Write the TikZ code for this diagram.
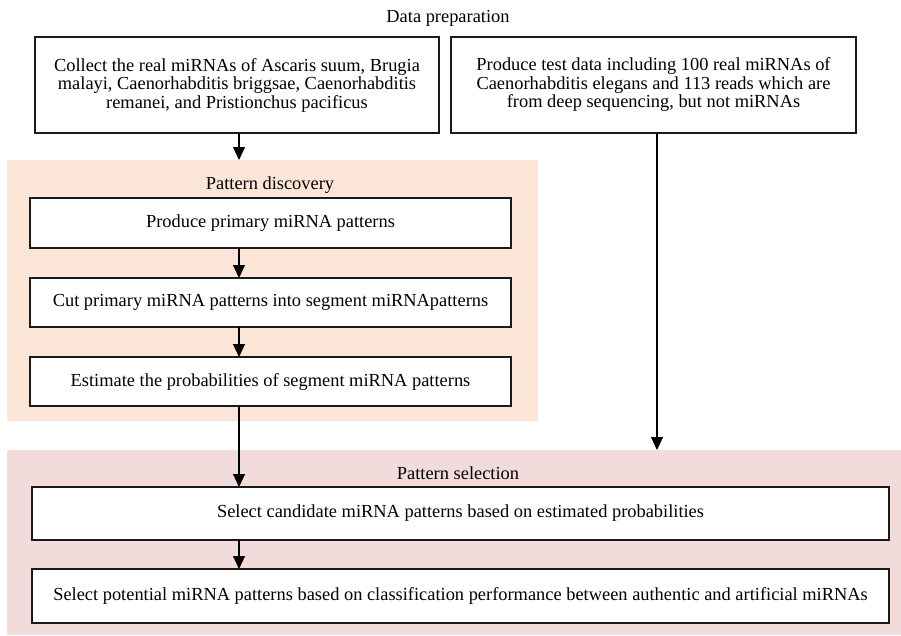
\documentclass[tikz,border=0pt]{standalone}
\usepackage{fontspec}
\setmainfont{Liberation Serif}
\usepackage{xcolor}
\usepackage{tikz}
\usetikzlibrary{arrows.meta,positioning,calc}
\definecolor{ink}{HTML}{1A1A1A}
\definecolor{peach}{HTML}{FBE5D6}
\definecolor{rose}{HTML}{F2DCDB}

\begin{document}
\begin{tikzpicture}[x=1pt,y=-1pt]
    \tikzset{
      item/.style={draw=ink,fill=white,line width=1.2pt,inner sep=0pt,outer sep=0pt,align=center,font=\fontsize{18.4}{18.5}\selectfont},
      panel/.style={draw=none,inner sep=0pt,outer sep=0pt},
      heading/.style={inner sep=0pt,font=\fontsize{18.4}{18.5}\selectfont},
      arrow/.style={-{Triangle[length=13pt,width=12pt]},draw=black,line width=1.1pt}
    }
    \useasboundingbox (0,0) rectangle (901,635);
    % group panels
    \node[panel,fill=peach,minimum width=531pt,minimum height=261pt] (discpanel) at (272.5,290.5) {};
    \node[panel,fill=rose,minimum width=894pt,minimum height=185pt] (selpanel) at (454,542.5) {};
    \node[heading] (prep) at (448,18) {Data preparation};
    \node[heading] (disc) at (270,185) {Pattern discovery};
    \node[heading] (sel) at (458,473) {Pattern selection};
    % steps
    \node[item,minimum width=404pt,minimum height=96pt] (collect) at (237,85) {Collect the real miRNAs of Ascaris suum, Brugia\\malayi, Caenorhabditis briggsae, Caenorhabditis\\remanei, and Pristionchus pacificus};
    \node[item,minimum width=405pt,minimum height=96pt] (testdata) at (653.5,85) {Produce test data including 100 real miRNAs of\\Caenorhabditis elegans and 113 reads which are\\from deep sequencing, but not miRNAs};
    \node[item,minimum width=481pt,minimum height=50pt] (produce) at (270.5,223) {Produce primary miRNA patterns};
    \node[item,minimum width=481pt,minimum height=49pt] (cut) at (270.5,302.5) {Cut primary miRNA patterns into segment miRNApatterns};
    \node[item,minimum width=481pt,minimum height=49pt] (estimate) at (270.5,381.5) {Estimate the probabilities of segment miRNA patterns};
    \node[item,minimum width=857pt,minimum height=53pt] (candidate) at (460.5,513.5) {Select candidate miRNA patterns based on estimated probabilities};
    \node[item,minimum width=857pt,minimum height=54pt] (potential) at (460.5,596) {Select potential miRNA patterns based on classification performance between authentic and artificial miRNAs};
    % connectors
    \draw[arrow] ([xshift=2pt]collect.south) -- ([xshift=2pt]collect.south |- discpanel.north);
    \draw[arrow] ([xshift=2pt]collect.south |- produce.south) -- ([xshift=2pt]collect.south |- cut.north);
    \draw[arrow] ([xshift=2pt]collect.south |- cut.south) -- ([xshift=2pt]collect.south |- estimate.north);
    \draw[arrow] ([xshift=2pt]collect.south |- estimate.south) -- ([xshift=2pt]collect.south |- candidate.north);
    \draw[arrow] ([xshift=2pt]collect.south |- candidate.south) -- ([xshift=2pt]collect.south |- potential.north);
    \draw[arrow] ([xshift=3.5pt]testdata.south) -- ([xshift=3.5pt]testdata.south |- selpanel.north);
\end{tikzpicture}
\end{document}
